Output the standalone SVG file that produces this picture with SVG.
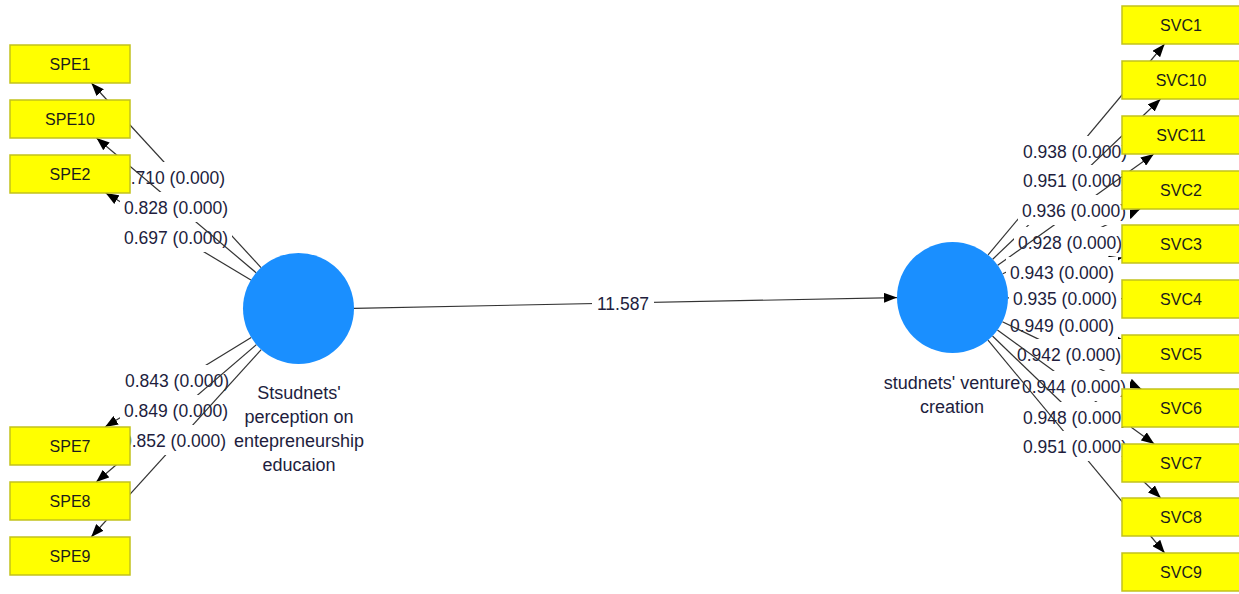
<svg xmlns="http://www.w3.org/2000/svg" width="1239" height="594" viewBox="0 0 1239 594">
  <style>
    .ln { stroke: #333333; stroke-width: 1.2; fill: none; marker-end: url(#ah); }
    .lb rect { fill: #ffffff; }
    .lb text { font-family: "Liberation Sans", Arial, sans-serif; font-size: 17.5px; fill: #211d3d; text-anchor: middle; }
    .box rect { fill: #ffff00; stroke: #c2c21c; stroke-width: 1.5; }
    .box text { font-family: "Liberation Sans", Arial, sans-serif; font-size: 16px; fill: #1c1c1c; text-anchor: middle; }
    .lv circle { fill: #1a8fff; }
    .lv text { font-family: "Liberation Sans", Arial, sans-serif; font-size: 18px; fill: #211d3d; text-anchor: middle; }
  </style>
  <defs>
    <marker id="ah" viewBox="0 0 13 10" refX="13" refY="5" markerWidth="13" markerHeight="10" markerUnits="userSpaceOnUse" orient="auto">
      <path d="M0,0 L13,5 L0,10 z" fill="#000"/>
    </marker>
  </defs>
  <rect width="1239" height="594" fill="#ffffff"/>

  <!-- connectors: each line is drawn before its own label, so a label hides its own line -->
  <g id="connectors">
    <!-- outer loadings, left construct -->
    <line class="ln" x1="261.0" y1="267.6" x2="91.4" y2="83"/>
    <g class="lb"><rect x="117" y="162" width="112" height="30"/><text x="173" y="183.5">0.710 (0.000)</text></g>
    <line class="ln" x1="250.9" y1="280.0" x2="105.7" y2="193"/>
    <g class="lb"><rect x="120" y="222" width="112" height="30"/><text x="176" y="243.5">0.697 (0.000)</text></g>
    <line class="ln" x1="256.1" y1="272.7" x2="96.5" y2="138"/>
    <g class="lb"><rect x="120" y="192" width="112" height="30"/><text x="176" y="213.5">0.828 (0.000)</text></g>

    <line class="ln" x1="251.2" y1="337.5" x2="105.0" y2="427"/>
    <g class="lb"><rect x="121" y="365" width="112" height="30"/><text x="177" y="386.5">0.843 (0.000)</text></g>
    <line class="ln" x1="256.4" y1="344.6" x2="96.2" y2="482"/>
    <g class="lb"><rect x="120" y="395" width="112" height="30"/><text x="176" y="416.5">0.849 (0.000)</text></g>
    <line class="ln" x1="261.2" y1="349.6" x2="91.2" y2="537"/>
    <g class="lb"><rect x="118" y="425" width="112" height="30"/><text x="174" y="446.5">0.852 (0.000)</text></g>

    <!-- outer loadings, right construct -->
    <line class="ln" x1="988.1" y1="254.9" x2="1164.6" y2="44"/>
    <g class="lb"><rect x="1019" y="136" width="112" height="30"/><text x="1075" y="157.5">0.938 (0.000)</text></g>
    <line class="ln" x1="992.7" y1="259.2" x2="1160.6" y2="99"/>
    <g class="lb"><rect x="1019" y="165" width="112" height="30"/><text x="1075" y="186.5">0.951 (0.000)</text></g>
    <line class="ln" x1="1002.7" y1="273.8" x2="1140.2" y2="209"/>
    <g class="lb"><rect x="1014" y="227" width="112" height="30"/><text x="1070" y="248.5">0.928 (0.000)</text></g>
    <line class="ln" x1="997.7" y1="265.3" x2="1153.8" y2="154"/>
    <g class="lb"><rect x="1018" y="195" width="112" height="30"/><text x="1074" y="216.5">0.936 (0.000)</text></g>
    <line class="ln" x1="1006.5" y1="284.8" x2="1122" y2="257.7"/>
    <g class="lb"><rect x="1006" y="257" width="112" height="30"/><text x="1062" y="278.5">0.943 (0.000)</text></g>
    <line class="ln" x1="1008" y1="297.9" x2="1122" y2="298.6"/>
    <g class="lb"><rect x="1009" y="283" width="112" height="30"/><text x="1065" y="304.5">0.935 (0.000)</text></g>
    <line class="ln" x1="1006.4" y1="310.8" x2="1122" y2="339.5"/>
    <g class="lb"><rect x="1006" y="310" width="112" height="30"/><text x="1062" y="331.5">0.949 (0.000)</text></g>
    <line class="ln" x1="1002.4" y1="321.7" x2="1141.3" y2="389"/>
    <g class="lb"><rect x="1013" y="339" width="112" height="30"/><text x="1069" y="360.5">0.942 (0.000)</text></g>
    <line class="ln" x1="997.4" y1="330.1" x2="1154.3" y2="444"/>
    <g class="lb"><rect x="1018" y="371" width="112" height="30"/><text x="1074" y="392.5">0.944 (0.000)</text></g>
    <line class="ln" x1="992.5" y1="336.0" x2="1160.8" y2="498"/>
    <g class="lb"><rect x="1019" y="402" width="112" height="30"/><text x="1075" y="423.5">0.948 (0.000)</text></g>
    <line class="ln" x1="988.0" y1="340.2" x2="1164.7" y2="553"/>
    <g class="lb"><rect x="1019" y="431" width="112" height="30"/><text x="1075" y="452.5">0.951 (0.000)</text></g>

    <!-- structural path -->
    <line class="ln" x1="354" y1="308.3" x2="897" y2="297.6"/>
    <g class="lb"><rect x="592" y="288" width="62" height="30"/><text x="623" y="309.5">11.587</text></g>
  </g>

  <!-- latent variables -->
  <g id="lv-perception" class="lv">
    <circle cx="298.5" cy="308.5" r="55.5"/>
    <text x="299" y="399">Stsudnets'</text>
    <text x="299" y="423">perception on</text>
    <text x="299" y="447">entepreneurship</text>
    <text x="299" y="471">educaion</text>
  </g>
  <g id="lv-venture" class="lv">
    <circle cx="952.5" cy="297.5" r="55.5"/>
    <text x="952" y="389">studnets' venture</text>
    <text x="952" y="413">creation</text>
  </g>

  <!-- indicators, left -->
  <g id="SPE1" class="box"><rect x="10" y="45" width="120" height="38"/><text x="70" y="70">SPE1</text></g>
  <g id="SPE10" class="box"><rect x="10" y="100" width="120" height="38"/><text x="70" y="125">SPE10</text></g>
  <g id="SPE2" class="box"><rect x="10" y="155" width="120" height="38"/><text x="70" y="180">SPE2</text></g>
  <g id="SPE7" class="box"><rect x="10" y="427" width="120" height="38"/><text x="70" y="452">SPE7</text></g>
  <g id="SPE8" class="box"><rect x="10" y="482" width="120" height="38"/><text x="70" y="507">SPE8</text></g>
  <g id="SPE9" class="box"><rect x="10" y="537" width="120" height="38"/><text x="70" y="562">SPE9</text></g>

  <!-- indicators, right -->
  <g id="SVC1" class="box"><rect x="1122" y="6" width="120" height="38"/><text x="1181" y="31">SVC1</text></g>
  <g id="SVC10" class="box"><rect x="1122" y="61" width="120" height="38"/><text x="1181" y="86">SVC10</text></g>
  <g id="SVC11" class="box"><rect x="1122" y="116" width="120" height="38"/><text x="1181" y="141">SVC11</text></g>
  <g id="SVC2" class="box"><rect x="1122" y="171" width="120" height="38"/><text x="1181" y="196">SVC2</text></g>
  <g id="SVC3" class="box"><rect x="1122" y="225" width="120" height="38"/><text x="1181" y="250">SVC3</text></g>
  <g id="SVC4" class="box"><rect x="1122" y="280" width="120" height="38"/><text x="1181" y="305">SVC4</text></g>
  <g id="SVC5" class="box"><rect x="1122" y="335" width="120" height="38"/><text x="1181" y="360">SVC5</text></g>
  <g id="SVC6" class="box"><rect x="1122" y="389" width="120" height="38"/><text x="1181" y="414">SVC6</text></g>
  <g id="SVC7" class="box"><rect x="1122" y="444" width="120" height="38"/><text x="1181" y="469">SVC7</text></g>
  <g id="SVC8" class="box"><rect x="1122" y="498" width="120" height="38"/><text x="1181" y="523">SVC8</text></g>
  <g id="SVC9" class="box"><rect x="1122" y="553" width="120" height="38"/><text x="1181" y="578">SVC9</text></g>
</svg>
